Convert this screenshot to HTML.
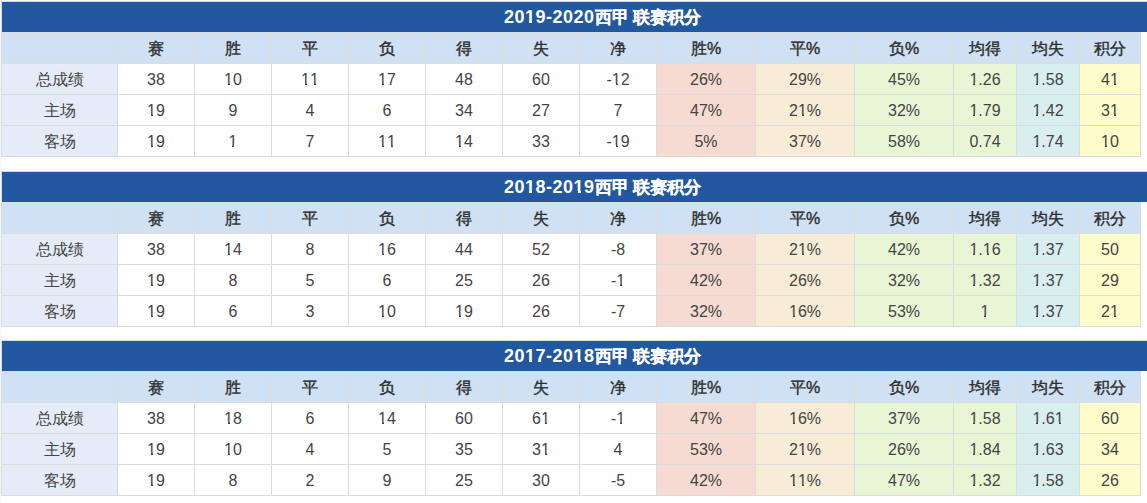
<!DOCTYPE html>
<html><head><meta charset="utf-8"><title>西甲联赛积分</title>
<style>
*{margin:0;padding:0;box-sizing:border-box}
html,body{width:1147px;height:503px;background:#fff;overflow:hidden}
body{position:relative;font-family:"Liberation Sans",sans-serif;color:#444;font-size:16px}
.edge{position:absolute;left:0;top:1px;width:1px;height:502px;background:#f4f5f8}
.t{position:absolute;left:1px;width:1140px;height:156px;background:#dcdcdc}
.tb{position:absolute;left:1px;top:0;width:1146px;height:31px;background:#dcdcdc}
.ti{position:absolute;left:1px;top:1px;right:0;height:30px;background:#22589f;color:#fff;font-weight:bold;font-size:18px;line-height:30px}
.ti span{position:absolute;top:0;white-space:nowrap}
.ti .d{left:502px;letter-spacing:0.5px}
.ti .k1{left:593px;font-size:17.3px;-webkit-text-stroke:0.2px #fff}
.ti .k2{left:631px;font-size:17.3px;-webkit-text-stroke:0.2px #fff}
.c{position:absolute;height:30px;line-height:32px;text-align:center;white-space:nowrap}
.h{background:#d0e1f4;font-weight:normal;color:#2e2e2e;-webkit-text-stroke:0.4px #2e2e2e}
.lab{background:#e5ecf7;--bg:#e5ecf7}
.w{background:#fff;--bg:#fff}
.c8{background:#f6dbd2;--bg:#f6dbd2}
.c9{background:#f7ecd6;--bg:#f7ecd6}
.c10{background:#e8f6d6;--bg:#e8f6d6}
.c11{background:#e8f6d6;--bg:#e8f6d6}
.c12{background:#d9eeee;--bg:#d9eeee}
.c13{background:#fefccb;--bg:#fefccb}
.o{font-style:normal;position:relative;display:inline-block}
.t1{--bg:#22589f}
.t1:after{top:19px !important}
.o:after{content:"";position:absolute;left:-1px;right:-1px;top:19px;height:2px;background:linear-gradient(90deg,var(--bg) 0,var(--bg) 41%,transparent 41%,transparent 63%,var(--bg) 63%)}
</style></head>
<body>
<div class="edge"></div>
<div class="t" style="top:1px"><div class="tb" style="left:0"></div><div class="ti" style="left:1px;width:1145px"><span class="d">20<i class="o t1">1</i>9-2020</span><span class="k1">西甲</span><span class="k2">联赛积分</span></div><div class="c h" style="left:1px;top:32px;width:115px"></div><div class="c h" style="left:117px;top:32px;width:76px">赛</div><div class="c h" style="left:194px;top:32px;width:76px">胜</div><div class="c h" style="left:271px;top:32px;width:76px">平</div><div class="c h" style="left:348px;top:32px;width:76px">负</div><div class="c h" style="left:425px;top:32px;width:76px">得</div><div class="c h" style="left:502px;top:32px;width:76px">失</div><div class="c h" style="left:579px;top:32px;width:76px">净</div><div class="c h" style="left:656px;top:32px;width:98px">胜%</div><div class="c h" style="left:755px;top:32px;width:98px">平%</div><div class="c h" style="left:854px;top:32px;width:98px">负%</div><div class="c h" style="left:953px;top:32px;width:62px">均得</div><div class="c h" style="left:1016px;top:32px;width:62px">均失</div><div class="c h" style="left:1079px;top:32px;width:60px">积分</div><div class="c lab" style="left:1px;top:63px;width:115px">总成绩</div><div class="c w" style="left:117px;top:63px;width:76px">38</div><div class="c w" style="left:194px;top:63px;width:76px"><i class="o">1</i>0</div><div class="c w" style="left:271px;top:63px;width:76px"><i class="o">1</i><i class="o">1</i></div><div class="c w" style="left:348px;top:63px;width:76px"><i class="o">1</i>7</div><div class="c w" style="left:425px;top:63px;width:76px">48</div><div class="c w" style="left:502px;top:63px;width:76px">60</div><div class="c w" style="left:579px;top:63px;width:76px">-<i class="o">1</i>2</div><div class="c c8" style="left:656px;top:63px;width:98px">26%</div><div class="c c9" style="left:755px;top:63px;width:98px">29%</div><div class="c c10" style="left:854px;top:63px;width:98px">45%</div><div class="c c11" style="left:953px;top:63px;width:62px"><i class="o">1</i>.26</div><div class="c c12" style="left:1016px;top:63px;width:62px"><i class="o">1</i>.58</div><div class="c c13" style="left:1079px;top:63px;width:60px">4<i class="o">1</i></div><div class="c lab" style="left:1px;top:94px;width:115px">主场</div><div class="c w" style="left:117px;top:94px;width:76px"><i class="o">1</i>9</div><div class="c w" style="left:194px;top:94px;width:76px">9</div><div class="c w" style="left:271px;top:94px;width:76px">4</div><div class="c w" style="left:348px;top:94px;width:76px">6</div><div class="c w" style="left:425px;top:94px;width:76px">34</div><div class="c w" style="left:502px;top:94px;width:76px">27</div><div class="c w" style="left:579px;top:94px;width:76px">7</div><div class="c c8" style="left:656px;top:94px;width:98px">47%</div><div class="c c9" style="left:755px;top:94px;width:98px">2<i class="o">1</i>%</div><div class="c c10" style="left:854px;top:94px;width:98px">32%</div><div class="c c11" style="left:953px;top:94px;width:62px"><i class="o">1</i>.79</div><div class="c c12" style="left:1016px;top:94px;width:62px"><i class="o">1</i>.42</div><div class="c c13" style="left:1079px;top:94px;width:60px">3<i class="o">1</i></div><div class="c lab" style="left:1px;top:125px;width:115px">客场</div><div class="c w" style="left:117px;top:125px;width:76px"><i class="o">1</i>9</div><div class="c w" style="left:194px;top:125px;width:76px"><i class="o">1</i></div><div class="c w" style="left:271px;top:125px;width:76px">7</div><div class="c w" style="left:348px;top:125px;width:76px"><i class="o">1</i><i class="o">1</i></div><div class="c w" style="left:425px;top:125px;width:76px"><i class="o">1</i>4</div><div class="c w" style="left:502px;top:125px;width:76px">33</div><div class="c w" style="left:579px;top:125px;width:76px">-<i class="o">1</i>9</div><div class="c c8" style="left:656px;top:125px;width:98px">5%</div><div class="c c9" style="left:755px;top:125px;width:98px">37%</div><div class="c c10" style="left:854px;top:125px;width:98px">58%</div><div class="c c11" style="left:953px;top:125px;width:62px">0.74</div><div class="c c12" style="left:1016px;top:125px;width:62px"><i class="o">1</i>.74</div><div class="c c13" style="left:1079px;top:125px;width:60px"><i class="o">1</i>0</div></div><div class="t" style="top:171px"><div class="tb" style="left:0"></div><div class="ti" style="left:1px;width:1145px"><span class="d">20<i class="o t1">1</i>8-20<i class="o t1">1</i>9</span><span class="k1">西甲</span><span class="k2">联赛积分</span></div><div class="c h" style="left:1px;top:32px;width:115px"></div><div class="c h" style="left:117px;top:32px;width:76px">赛</div><div class="c h" style="left:194px;top:32px;width:76px">胜</div><div class="c h" style="left:271px;top:32px;width:76px">平</div><div class="c h" style="left:348px;top:32px;width:76px">负</div><div class="c h" style="left:425px;top:32px;width:76px">得</div><div class="c h" style="left:502px;top:32px;width:76px">失</div><div class="c h" style="left:579px;top:32px;width:76px">净</div><div class="c h" style="left:656px;top:32px;width:98px">胜%</div><div class="c h" style="left:755px;top:32px;width:98px">平%</div><div class="c h" style="left:854px;top:32px;width:98px">负%</div><div class="c h" style="left:953px;top:32px;width:62px">均得</div><div class="c h" style="left:1016px;top:32px;width:62px">均失</div><div class="c h" style="left:1079px;top:32px;width:60px">积分</div><div class="c lab" style="left:1px;top:63px;width:115px">总成绩</div><div class="c w" style="left:117px;top:63px;width:76px">38</div><div class="c w" style="left:194px;top:63px;width:76px"><i class="o">1</i>4</div><div class="c w" style="left:271px;top:63px;width:76px">8</div><div class="c w" style="left:348px;top:63px;width:76px"><i class="o">1</i>6</div><div class="c w" style="left:425px;top:63px;width:76px">44</div><div class="c w" style="left:502px;top:63px;width:76px">52</div><div class="c w" style="left:579px;top:63px;width:76px">-8</div><div class="c c8" style="left:656px;top:63px;width:98px">37%</div><div class="c c9" style="left:755px;top:63px;width:98px">2<i class="o">1</i>%</div><div class="c c10" style="left:854px;top:63px;width:98px">42%</div><div class="c c11" style="left:953px;top:63px;width:62px"><i class="o">1</i>.<i class="o">1</i>6</div><div class="c c12" style="left:1016px;top:63px;width:62px"><i class="o">1</i>.37</div><div class="c c13" style="left:1079px;top:63px;width:60px">50</div><div class="c lab" style="left:1px;top:94px;width:115px">主场</div><div class="c w" style="left:117px;top:94px;width:76px"><i class="o">1</i>9</div><div class="c w" style="left:194px;top:94px;width:76px">8</div><div class="c w" style="left:271px;top:94px;width:76px">5</div><div class="c w" style="left:348px;top:94px;width:76px">6</div><div class="c w" style="left:425px;top:94px;width:76px">25</div><div class="c w" style="left:502px;top:94px;width:76px">26</div><div class="c w" style="left:579px;top:94px;width:76px">-<i class="o">1</i></div><div class="c c8" style="left:656px;top:94px;width:98px">42%</div><div class="c c9" style="left:755px;top:94px;width:98px">26%</div><div class="c c10" style="left:854px;top:94px;width:98px">32%</div><div class="c c11" style="left:953px;top:94px;width:62px"><i class="o">1</i>.32</div><div class="c c12" style="left:1016px;top:94px;width:62px"><i class="o">1</i>.37</div><div class="c c13" style="left:1079px;top:94px;width:60px">29</div><div class="c lab" style="left:1px;top:125px;width:115px">客场</div><div class="c w" style="left:117px;top:125px;width:76px"><i class="o">1</i>9</div><div class="c w" style="left:194px;top:125px;width:76px">6</div><div class="c w" style="left:271px;top:125px;width:76px">3</div><div class="c w" style="left:348px;top:125px;width:76px"><i class="o">1</i>0</div><div class="c w" style="left:425px;top:125px;width:76px"><i class="o">1</i>9</div><div class="c w" style="left:502px;top:125px;width:76px">26</div><div class="c w" style="left:579px;top:125px;width:76px">-7</div><div class="c c8" style="left:656px;top:125px;width:98px">32%</div><div class="c c9" style="left:755px;top:125px;width:98px"><i class="o">1</i>6%</div><div class="c c10" style="left:854px;top:125px;width:98px">53%</div><div class="c c11" style="left:953px;top:125px;width:62px"><i class="o">1</i></div><div class="c c12" style="left:1016px;top:125px;width:62px"><i class="o">1</i>.37</div><div class="c c13" style="left:1079px;top:125px;width:60px">2<i class="o">1</i></div></div><div class="t" style="top:340px"><div class="tb" style="left:0"></div><div class="ti" style="left:1px;width:1145px"><span class="d">20<i class="o t1">1</i>7-20<i class="o t1">1</i>8</span><span class="k1">西甲</span><span class="k2">联赛积分</span></div><div class="c h" style="left:1px;top:32px;width:115px"></div><div class="c h" style="left:117px;top:32px;width:76px">赛</div><div class="c h" style="left:194px;top:32px;width:76px">胜</div><div class="c h" style="left:271px;top:32px;width:76px">平</div><div class="c h" style="left:348px;top:32px;width:76px">负</div><div class="c h" style="left:425px;top:32px;width:76px">得</div><div class="c h" style="left:502px;top:32px;width:76px">失</div><div class="c h" style="left:579px;top:32px;width:76px">净</div><div class="c h" style="left:656px;top:32px;width:98px">胜%</div><div class="c h" style="left:755px;top:32px;width:98px">平%</div><div class="c h" style="left:854px;top:32px;width:98px">负%</div><div class="c h" style="left:953px;top:32px;width:62px">均得</div><div class="c h" style="left:1016px;top:32px;width:62px">均失</div><div class="c h" style="left:1079px;top:32px;width:60px">积分</div><div class="c lab" style="left:1px;top:63px;width:115px">总成绩</div><div class="c w" style="left:117px;top:63px;width:76px">38</div><div class="c w" style="left:194px;top:63px;width:76px"><i class="o">1</i>8</div><div class="c w" style="left:271px;top:63px;width:76px">6</div><div class="c w" style="left:348px;top:63px;width:76px"><i class="o">1</i>4</div><div class="c w" style="left:425px;top:63px;width:76px">60</div><div class="c w" style="left:502px;top:63px;width:76px">6<i class="o">1</i></div><div class="c w" style="left:579px;top:63px;width:76px">-<i class="o">1</i></div><div class="c c8" style="left:656px;top:63px;width:98px">47%</div><div class="c c9" style="left:755px;top:63px;width:98px"><i class="o">1</i>6%</div><div class="c c10" style="left:854px;top:63px;width:98px">37%</div><div class="c c11" style="left:953px;top:63px;width:62px"><i class="o">1</i>.58</div><div class="c c12" style="left:1016px;top:63px;width:62px"><i class="o">1</i>.6<i class="o">1</i></div><div class="c c13" style="left:1079px;top:63px;width:60px">60</div><div class="c lab" style="left:1px;top:94px;width:115px">主场</div><div class="c w" style="left:117px;top:94px;width:76px"><i class="o">1</i>9</div><div class="c w" style="left:194px;top:94px;width:76px"><i class="o">1</i>0</div><div class="c w" style="left:271px;top:94px;width:76px">4</div><div class="c w" style="left:348px;top:94px;width:76px">5</div><div class="c w" style="left:425px;top:94px;width:76px">35</div><div class="c w" style="left:502px;top:94px;width:76px">3<i class="o">1</i></div><div class="c w" style="left:579px;top:94px;width:76px">4</div><div class="c c8" style="left:656px;top:94px;width:98px">53%</div><div class="c c9" style="left:755px;top:94px;width:98px">2<i class="o">1</i>%</div><div class="c c10" style="left:854px;top:94px;width:98px">26%</div><div class="c c11" style="left:953px;top:94px;width:62px"><i class="o">1</i>.84</div><div class="c c12" style="left:1016px;top:94px;width:62px"><i class="o">1</i>.63</div><div class="c c13" style="left:1079px;top:94px;width:60px">34</div><div class="c lab" style="left:1px;top:125px;width:115px">客场</div><div class="c w" style="left:117px;top:125px;width:76px"><i class="o">1</i>9</div><div class="c w" style="left:194px;top:125px;width:76px">8</div><div class="c w" style="left:271px;top:125px;width:76px">2</div><div class="c w" style="left:348px;top:125px;width:76px">9</div><div class="c w" style="left:425px;top:125px;width:76px">25</div><div class="c w" style="left:502px;top:125px;width:76px">30</div><div class="c w" style="left:579px;top:125px;width:76px">-5</div><div class="c c8" style="left:656px;top:125px;width:98px">42%</div><div class="c c9" style="left:755px;top:125px;width:98px"><i class="o">1</i><i class="o">1</i>%</div><div class="c c10" style="left:854px;top:125px;width:98px">47%</div><div class="c c11" style="left:953px;top:125px;width:62px"><i class="o">1</i>.32</div><div class="c c12" style="left:1016px;top:125px;width:62px"><i class="o">1</i>.58</div><div class="c c13" style="left:1079px;top:125px;width:60px">26</div></div>
</body></html>
